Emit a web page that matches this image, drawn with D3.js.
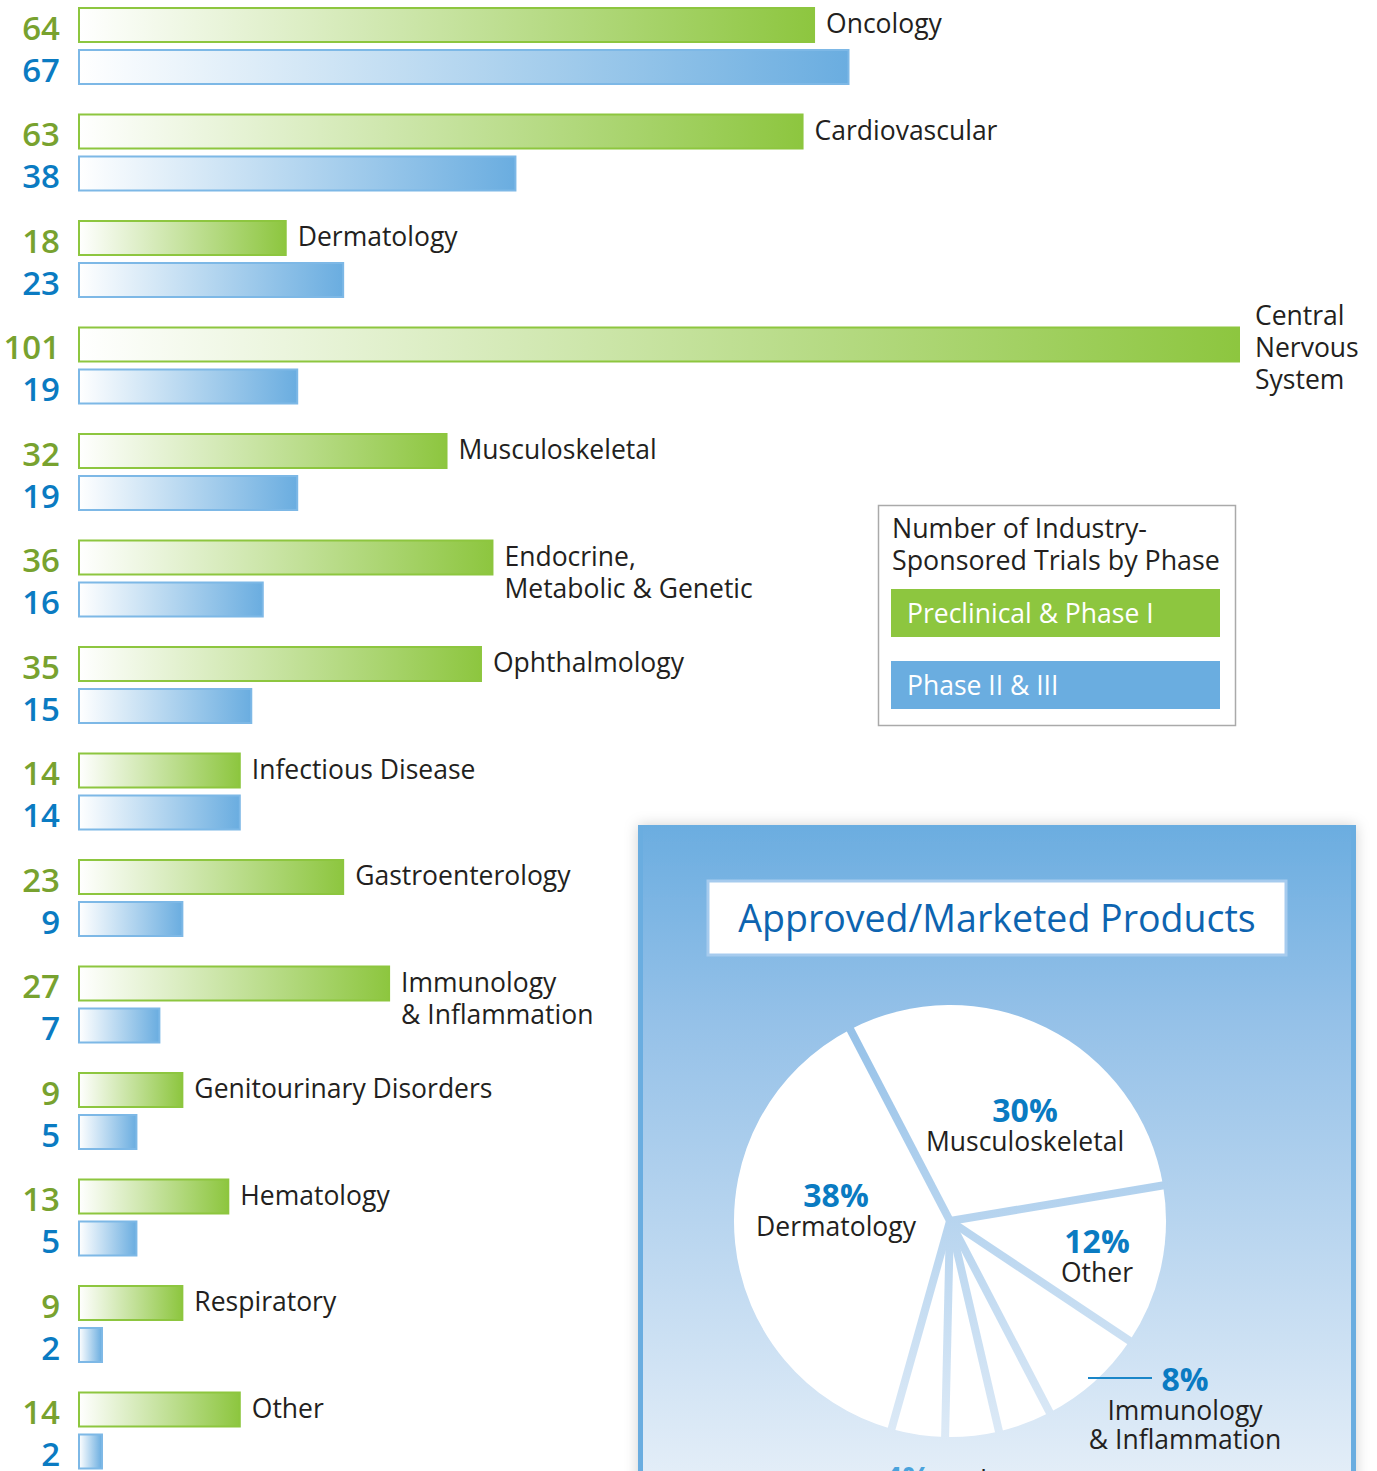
<!DOCTYPE html>
<html>
<head>
<meta charset="utf-8">
<script src="https://cdn.jsdelivr.net/npm/d3@7"></script>
<style>
  body { margin: 0; background: #fff; }
  svg { display: block; font-family: "Open Sans", "Noto Sans", sans-serif; }
</style>
</head>
<body>
<svg width="1377" height="1471"></svg>
<script>
// trials by therapeutic area
const categories = ['Oncology', 'Cardiovascular', 'Dermatology', 'Central Nervous System',
  'Musculoskeletal', 'Endocrine, Metabolic & Genetic', 'Ophthalmology', 'Infectious Disease',
  'Gastroenterology', 'Immunology & Inflammation', 'Genitourinary Disorders', 'Hematology',
  'Respiratory', 'Other'];
const labelLines = [['Oncology'], ['Cardiovascular'], ['Dermatology'], ['Central', 'Nervous', 'System'],
  ['Musculoskeletal'], ['Endocrine,', 'Metabolic & Genetic'], ['Ophthalmology'], ['Infectious Disease'],
  ['Gastroenterology'], ['Immunology', '& Inflammation'], ['Genitourinary Disorders'], ['Hematology'],
  ['Respiratory'], ['Other']];
const preclinical = [64, 63, 18, 101, 32, 36, 35, 14, 23, 27, 9, 13, 9, 14];
const phase23 = [67, 38, 23, 19, 19, 16, 15, 14, 9, 7, 5, 5, 2, 2];
const legendTitle = ['Number of Industry-', 'Sponsored Trials by Phase'];
const seriesNames = ['Preclinical & Phase I', 'Phase II & III'];

// approved / marketed products pie
const pieLabels = ['Musculoskeletal', 'Other', 'Immunology & Inflammation', 'a', 'b', 'c', 'Dermatology'];
const pieValues = [30, 12, 8, 4, 4, 4, 38];

const green = '#8dc63f', blue = '#6aade0';
const greenText = '#78a22f', blueText = '#0a7bc2';

const svg = d3.select('svg');
const defs = svg.append('defs');

function barGrad(id, c) {
  const g = defs.append('linearGradient').attr('id', id);
  g.append('stop').attr('offset', 0).attr('stop-color', '#fff');
  g.append('stop').attr('offset', 1).attr('stop-color', c);
}
barGrad('gGreen', green);
barGrad('gBlue', blue);

const panelGrad = defs.append('linearGradient').attr('id', 'panelGrad')
  .attr('gradientUnits', 'userSpaceOnUse')
  .attr('x1', 0).attr('y1', 825).attr('x2', 0).attr('y2', 1480);
panelGrad.append('stop').attr('offset', 0).attr('stop-color', '#6badE0');
panelGrad.append('stop').attr('offset', 0.3).attr('stop-color', '#95c1e8');
panelGrad.append('stop').attr('offset', 1).attr('stop-color', '#e4eef8');

const shadow = defs.append('filter').attr('id', 'shadow')
  .attr('x', '-10%').attr('y', '-10%').attr('width', '120%').attr('height', '120%');
shadow.append('feDropShadow').attr('dx', 0).attr('dy', 0).attr('stdDeviation', 7)
  .attr('flood-color', '#000').attr('flood-opacity', 0.18);

// scales
const x = d3.scaleLinear().domain([0, 101]).range([79, 1239]);
const y = d3.scaleBand().domain(categories).range([7, 7 + 106.5 * categories.length]);
const sub = d3.scaleBand().domain(['p1', 'p23']).range([0, 78]).paddingInner(6 / 42);

const rows = categories.map((c, i) => ({
  cat: c, lines: labelLines[i], p1: preclinical[i], p23: phase23[i]
}));

const group = svg.append('g').selectAll('g')
  .data(rows)
  .join('g')
  .attr('transform', d => `translate(0,${y(d.cat)})`);

const series = [
  {key: 'p1', fill: 'url(#gGreen)', stroke: green, text: greenText},
  {key: 'p23', fill: 'url(#gBlue)', stroke: '#7db8e6', text: blueText}
];

series.forEach(s => {
  group.append('rect')
    .attr('x', x(0))
    .attr('y', sub(s.key) + 1)
    .attr('width', d => x(d[s.key]) - x(0))
    .attr('height', sub.bandwidth() - 2)
    .attr('fill', s.fill)
    .attr('stroke', s.stroke)
    .attr('stroke-width', 2);

  group.append('text')
    .attr('x', 60)
    .attr('y', sub(s.key) + sub.bandwidth() / 2 + 14.5)
    .attr('text-anchor', 'end')
    .attr('font-size', 33)
    .attr('font-weight', 600)
    .attr('fill', s.text)
    .text(d => d[s.key]);
});

group.append('text')
  .attr('font-size', 26.5)
  .attr('fill', '#231f20')
  .selectAll('tspan')
  .data(d => d.lines.map((l, i) => ({l, i, n: d.lines.length, end: x(d.p1)})))
  .join('tspan')
  .attr('x', d => d.end + (d.n > 2 ? 16 : 12))
  .attr('y', d => 26 + d.i * 32 - (d.n > 2 ? 28 : 0))
  .text(d => d.l);

// legend
const legend = svg.append('g').attr('transform', 'translate(878,505)');
legend.append('rect')
  .attr('x', 0.5).attr('y', 0.5).attr('width', 357).attr('height', 220)
  .attr('fill', '#fff').attr('stroke', '#aaa').attr('stroke-width', 1.5);
legend.append('text')
  .attr('font-size', 26.8)
  .attr('fill', '#231f20')
  .selectAll('tspan')
  .data(legendTitle)
  .join('tspan')
  .attr('x', 14)
  .attr('y', (d, i) => 33 + i * 32)
  .text(d => d);
const items = legend.selectAll('g.item')
  .data(seriesNames)
  .join('g')
  .attr('class', 'item')
  .attr('transform', (d, i) => `translate(13,${84 + i * 72})`);
items.append('rect')
  .attr('width', 329).attr('height', 48)
  .attr('fill', (d, i) => i ? blue : green);
items.append('text')
  .attr('x', 16).attr('y', 34)
  .attr('font-size', 26.5)
  .attr('fill', '#fff')
  .text(d => d);

// pie panel
const panel = svg.append('g');
panel.append('rect')
  .attr('x', 638).attr('y', 825).attr('width', 718).attr('height', 700)
  .attr('fill', 'url(#panelGrad)')
  .attr('filter', 'url(#shadow)');
panel.append('rect')
  .attr('x', 638).attr('y', 825).attr('width', 5).attr('height', 700).attr('fill', blue);
panel.append('rect')
  .attr('x', 1351).attr('y', 825).attr('width', 5).attr('height', 700).attr('fill', blue);

panel.append('rect')
  .attr('x', 708).attr('y', 881).attr('width', 578).attr('height', 74)
  .attr('fill', '#fff').attr('stroke', '#a6cbee').attr('stroke-width', 3);
panel.append('text')
  .attr('x', 997).attr('y', 932)
  .attr('text-anchor', 'middle')
  .attr('font-size', 37.5)
  .attr('fill', '#0d64b0')
  .text('Approved/Marketed Products');

const cx = 950, cy = 1221, r = 216;
const deg = Math.PI / 180;
const pie = d3.pie().sort(null).value(d => d)
  .startAngle(-27.5 * deg).endAngle(332.5 * deg);
const arc = d3.arc().innerRadius(0).outerRadius(r);

panel.append('g')
  .attr('transform', `translate(${cx},${cy})`)
  .selectAll('path')
  .data(pie(pieValues))
  .join('path')
  .attr('d', arc)
  .attr('fill', '#fff');

// separators drawn in the panel gradient
panel.append('g')
  .selectAll('line')
  .data(pie(pieValues))
  .join('line')
  .attr('x1', cx).attr('y1', cy)
  .attr('x2', d => cx + (r + 4) * Math.sin(d.startAngle))
  .attr('y2', d => cy - (r + 4) * Math.cos(d.startAngle))
  .attr('stroke', 'url(#panelGrad)')
  .attr('stroke-width', 8);

const pieText = [
  {pct: '30%', lines: ['Musculoskeletal'], x: 1025, y: 1122},
  {pct: '38%', lines: ['Dermatology'], x: 836, y: 1207},
  {pct: '12%', lines: ['Other'], x: 1097, y: 1253},
  {pct: '8%', lines: ['Immunology', '& Inflammation'], x: 1185, y: 1391}
];
const pt = panel.append('g').selectAll('g')
  .data(pieText)
  .join('g');
pt.append('text')
  .attr('x', d => d.x).attr('y', d => d.y)
  .attr('text-anchor', 'middle')
  .attr('font-size', 32).attr('font-weight', 700)
  .attr('fill', blueText)
  .text(d => d.pct);
pt.append('text')
  .attr('text-anchor', 'middle')
  .attr('font-size', 26.5)
  .attr('fill', '#231f20')
  .selectAll('tspan')
  .data(d => d.lines.map((l, i) => ({l, i, x: d.x, y: d.y})))
  .join('tspan')
  .attr('x', d => d.x)
  .attr('y', d => d.y + 29 + d.i * 29)
  .text(d => d.l);

panel.append('line')
  .attr('x1', 1088).attr('x2', 1152).attr('y1', 1378).attr('y2', 1378)
  .attr('stroke', '#1a86c8').attr('stroke-width', 2);

// label of the three small slices, cut off at the bottom edge
const cut = panel.append('text').attr('x', 884).attr('y', 1490).attr('font-size', 32);
cut.append('tspan').attr('font-weight', 700).attr('fill', '#4aa3dc').text('4%');
cut.append('tspan').attr('fill', '#231f20').attr('font-size', 26.5).text(' each');
</script>
</body>
</html>
